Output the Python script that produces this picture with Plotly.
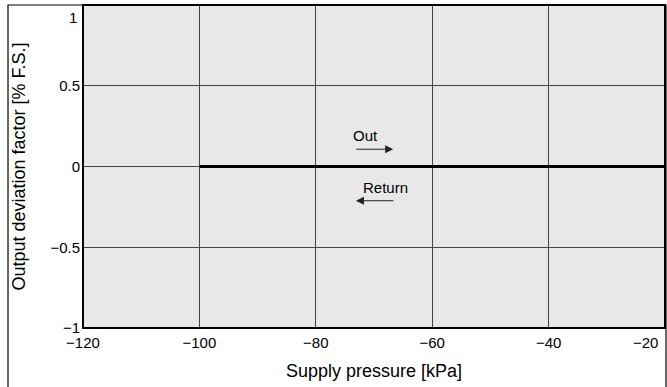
import plotly.graph_objects as go

# Data
line_x = [-100, -20]
line_y = [0, 0]
x_ticks = [-120, -100, -80, -60, -40]
x_tick_labels = ["\u2212120", "\u2212100", "\u221280", "\u221260", "\u221240"]
x_last_tick = -20
x_last_label = "\u221220"
y_ticks = [-1, -0.5, 0, 0.5]
y_tick_labels = ["\u22121", "\u22120.5", "0", "0.5"]
y_last_tick = 1
y_last_label = "1"
out_arrow_x = [-73.3, -66.7]
out_arrow_y = 0.107
ret_arrow_x = [-66.4, -73.1]
ret_arrow_y = -0.212
out_label = ("Out", -71.5, 0.19)
ret_label = ("Return", -68.1, -0.127)

W, H = 667, 387
L, R, T, B = 83, 2, 5, 59
pw, ph = W - L - R, H - T - B

fig = go.Figure()
fig.add_trace(go.Scatter(x=line_x, y=line_y, mode="lines",
                         line=dict(color="black", width=2.8), showlegend=False,
                         hoverinfo="skip"))

FAM = "Liberation Sans, Arial, Helvetica, sans-serif"
tick_font = dict(family=FAM, size=15, color="black")
title_font = dict(family=FAM, size=18, color="black")

annotations = [
    dict(x=out_arrow_x[1], y=out_arrow_y, ax=out_arrow_x[0], ay=out_arrow_y,
         xref="x", yref="y", axref="x", ayref="y", text="", showarrow=True,
         arrowhead=2, arrowsize=1.6, arrowwidth=1, arrowcolor="#222222"),
    dict(x=ret_arrow_x[1], y=ret_arrow_y, ax=ret_arrow_x[0], ay=ret_arrow_y,
         xref="x", yref="y", axref="x", ayref="y", text="", showarrow=True,
         arrowhead=2, arrowsize=1.6, arrowwidth=1, arrowcolor="#222222"),
    dict(x=out_label[1], y=out_label[2], xref="x", yref="y", text=out_label[0],
         showarrow=False, font=tick_font),
    dict(x=ret_label[1], y=ret_label[2], xref="x", yref="y", text=ret_label[0],
         showarrow=False, font=tick_font),
    # end tick labels pulled inside the figure, as in the reference
    dict(x=0, y=y_last_tick, xref="paper", yref="y", text=y_last_label,
         showarrow=False, xanchor="right", yanchor="top", xshift=-4, yshift=-2,
         font=tick_font),
    dict(x=x_last_tick, y=0, xref="x", yref="paper", text=x_last_label,
         showarrow=False, xanchor="right", yanchor="top", xshift=-5, yshift=-4,
         font=tick_font),
]

shapes = [
    dict(type="rect", xref="paper", yref="paper",
         x0=(8 - L) / pw, x1=1.0 + 1 / pw,
         y0=-(392 - (H - B)) / ph, y1=1.0,
         line=dict(color="black", width=1.2), fillcolor="rgba(0,0,0,0)",
         layer="above"),
    dict(type="rect", xref="paper", yref="paper", x0=0, x1=1, y0=0, y1=1,
         line=dict(color="black", width=2), fillcolor="rgba(0,0,0,0)",
         layer="above"),
]

fig.update_layout(
    width=W, height=H,
    margin=dict(l=L, r=R, t=T, b=B),
    paper_bgcolor="white",
    plot_bgcolor="#e8e8e8",
    font=tick_font,
    annotations=annotations,
    shapes=shapes,
    xaxis=dict(range=[-120, -20], tickvals=x_ticks, ticktext=x_tick_labels,
               showgrid=True, gridcolor="#444444", gridwidth=1,
               zeroline=False, ticks="", showline=False, automargin=False,
               ticklabeloverflow="allow", tickfont=tick_font,
               ticklabelstandoff=4,
               title=dict(text="Supply pressure [kPa]", standoff=14,
                          font=title_font)),
    yaxis=dict(range=[-1, 1], tickvals=y_ticks, ticktext=y_tick_labels,
               showgrid=True, gridcolor="#444444", gridwidth=1,
               zeroline=False, ticks="", showline=False, automargin=False,
               ticklabeloverflow="allow", tickfont=tick_font,
               ticklabelstandoff=2,
               title=dict(text="Output deviation factor [% F.S.]", standoff=20,
                          font=title_font)),
)

fig.write_html("out.html", config={"displayModeBar": False},
               post_script="document.body.style.margin='0';")
